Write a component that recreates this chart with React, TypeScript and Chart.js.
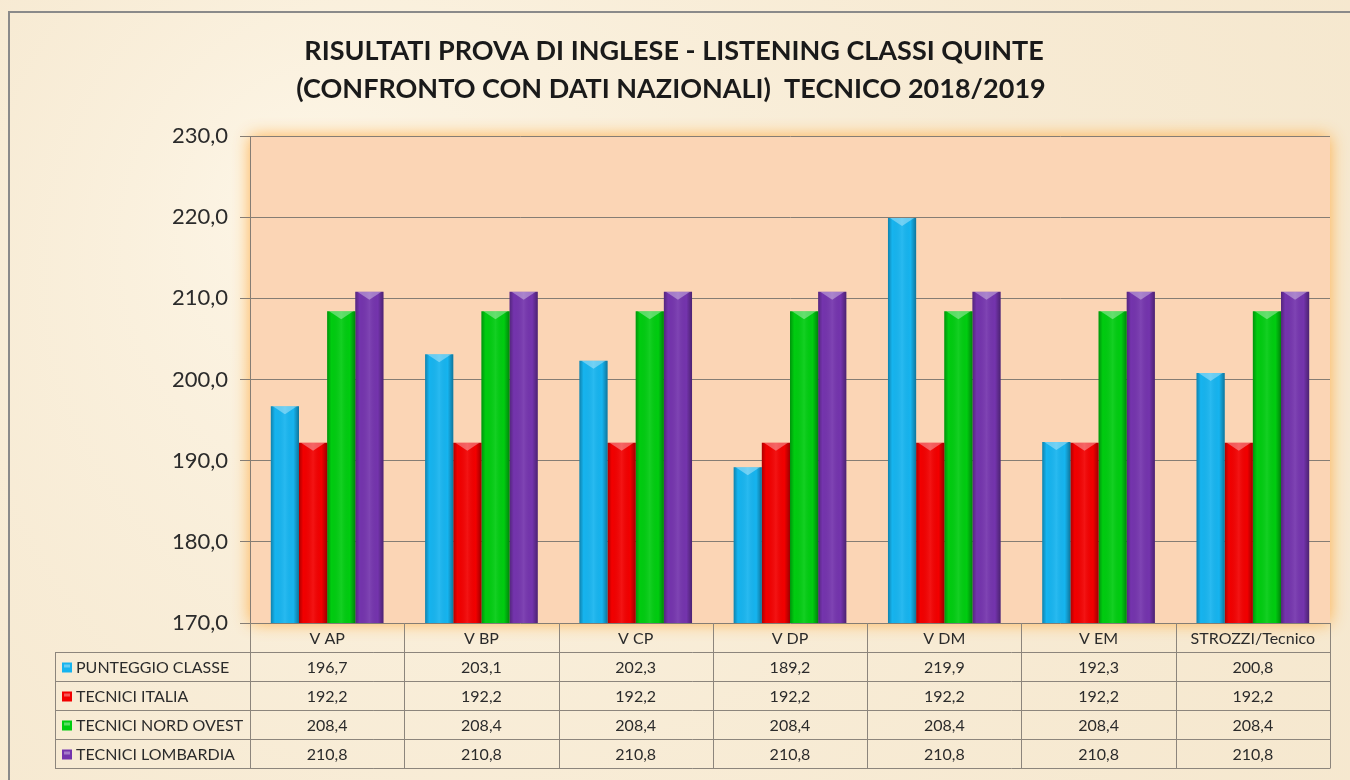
import React, { useEffect, useRef } from "react";
import { Chart, registerables } from "chart.js";

Chart.register(...registerables);

const TITLE_LINES = [
  "RISULTATI PROVA DI INGLESE - LISTENING CLASSI QUINTE",
  "(CONFRONTO CON DATI NAZIONALI)  TECNICO 2018/2019",
];
const CATEGORIES = ["V AP", "V BP", "V CP", "V DP", "V DM", "V EM", "STROZZI/Tecnico"];
const SERIES_NAMES = ["PUNTEGGIO CLASSE", "TECNICI ITALIA", "TECNICI NORD OVEST", "TECNICI LOMBARDIA"];
const PUNTEGGIO_CLASSE = [196.7, 203.1, 202.3, 189.2, 219.9, 192.3, 200.8];
const TECNICI_ITALIA = [192.2, 192.2, 192.2, 192.2, 192.2, 192.2, 192.2];
const TECNICI_NORD_OVEST = [208.4, 208.4, 208.4, 208.4, 208.4, 208.4, 208.4];
const TECNICI_LOMBARDIA = [210.8, 210.8, 210.8, 210.8, 210.8, 210.8, 210.8];
const SERIES_COLORS = ["#16b4ef", "#f20000", "#00cc10", "#7434ad"];
const Y_MIN = 170;
const Y_MAX = 230;
const Y_STEP = 10;

const FONT = "Lato, 'Open Sans', sans-serif";
const fmt = (v: number) => v.toFixed(1).replace(".", ",");

const PLOT_LEFT = 250;
const PLOT_TOP = 136;
const PLOT_BOTTOM = 623;
const TABLE_LEFT = 55;
const ROW_H = 29;

const decorPlugin = {
  id: "decor",
  beforeDraw(chart: any) {
    const { ctx, width, height, chartArea } = chart;
    ctx.save();
    ctx.fillStyle = "#f8ecd6";
    ctx.fillRect(0, 0, width, height);
    const g = ctx.createRadialGradient(300, 200, 50, 600, 400, 900);
    g.addColorStop(0, "rgba(255,250,238,0.6)");
    g.addColorStop(1, "rgba(240,222,190,0.3)");
    ctx.fillStyle = g;
    ctx.fillRect(0, 0, width, height);
    ctx.strokeStyle = "#8a8a8a";
    ctx.lineWidth = 2;
    ctx.beginPath();
    ctx.moveTo(9, height);
    ctx.lineTo(9, 12);
    ctx.lineTo(width, 12);
    ctx.stroke();
    ctx.shadowColor = "rgba(255,170,60,0.9)";
    ctx.shadowBlur = 16;
    ctx.fillStyle = "#fbd5b5";
    ctx.fillRect(chartArea.left, chartArea.top, chartArea.right - chartArea.left, chartArea.bottom - chartArea.top);
    ctx.shadowBlur = 0;
    ctx.shadowColor = "transparent";
    ctx.fillRect(chartArea.left, chartArea.top, chartArea.right - chartArea.left, chartArea.bottom - chartArea.top);
    ctx.fillStyle = "#1a1a1a";
    ctx.font = `bold 27px ${FONT}`;
    ctx.textAlign = "center";
    ctx.textBaseline = "alphabetic";
    ctx.fillText(TITLE_LINES[0], 674, 60);
    ctx.fillText(TITLE_LINES[1], 671, 98);
    ctx.restore();
  },
  afterDatasetsDraw(chart: any) {
    const { ctx, chartArea } = chart;
    ctx.save();
    ctx.beginPath();
    ctx.rect(chartArea.left, chartArea.top, chartArea.right - chartArea.left, chartArea.bottom - chartArea.top);
    ctx.clip();
    chart.data.datasets.forEach((ds: any, di: number) => {
      const meta = chart.getDatasetMeta(di);
      meta.data.forEach((bar: any) => {
        const w = bar.width;
        const left = bar.x - w / 2;
        const top = bar.y;
        const bottom = Math.min(bar.base, chartArea.bottom);
        const gr = ctx.createLinearGradient(left, 0, left + w, 0);
        gr.addColorStop(0, "rgba(0,0,0,0.28)");
        gr.addColorStop(0.15, "rgba(0,0,0,0.0)");
        gr.addColorStop(0.5, "rgba(255,255,255,0.08)");
        gr.addColorStop(0.8, "rgba(0,0,0,0.0)");
        gr.addColorStop(1, "rgba(0,0,0,0.35)");
        ctx.fillStyle = gr;
        ctx.fillRect(left, top, w, bottom - top);
        ctx.fillStyle = "rgba(255,255,255,0.35)";
        ctx.beginPath();
        ctx.moveTo(left + 2, top);
        ctx.lineTo(left + w - 2, top);
        ctx.lineTo(bar.x, top + 8);
        ctx.closePath();
        ctx.fill();
      });
    });
    ctx.restore();
  },
  afterDraw(chart: any) {
    const { ctx, chartArea } = chart;
    const x = chart.scales.x;
    const n = CATEGORIES.length;
    const colW = (chartArea.right - chartArea.left) / n;
    const bottomTable = chartArea.bottom + ROW_H * 5;
    ctx.save();
    ctx.strokeStyle = "#8c857c";
    ctx.lineWidth = 1;
    ctx.beginPath();
    for (let i = 0; i <= n; i++) {
      const px = Math.round(chartArea.left + i * colW) + 0.5;
      ctx.moveTo(px, chartArea.bottom);
      ctx.lineTo(px, bottomTable);
    }
    ctx.moveTo(TABLE_LEFT + 0.5, chartArea.bottom + ROW_H);
    ctx.lineTo(TABLE_LEFT + 0.5, bottomTable);
    for (let r = 1; r <= 5; r++) {
      const py = Math.round(chartArea.bottom + r * ROW_H) + 0.5;
      ctx.moveTo(TABLE_LEFT, py);
      ctx.lineTo(Math.round(chartArea.right) + 0.5, py);
    }
    ctx.stroke();

    const values = chart.data.datasets.map((d: any) => d.data);
    ctx.textBaseline = "middle";
    for (let r = 0; r < SERIES_NAMES.length; r++) {
      const cy = chartArea.bottom + ROW_H * (r + 1) + ROW_H / 2 + 1;
      ctx.fillStyle = SERIES_COLORS[r];
      ctx.fillRect(TABLE_LEFT + 7, cy - 5, 10, 10);
      ctx.fillStyle = "rgba(255,255,255,0.35)";
      ctx.fillRect(TABLE_LEFT + 9, cy - 3, 6, 3);
      ctx.fillStyle = "#2b2b2b";
      ctx.font = `16px ${FONT}`;
      ctx.textAlign = "left";
      ctx.fillText(SERIES_NAMES[r], TABLE_LEFT + 21, cy);
      ctx.textAlign = "center";
      for (let c = 0; c < n; c++) {
        ctx.fillText(fmt(values[r][c]), x.getPixelForValue(c), cy);
      }
    }
    ctx.restore();
  },
};

export default function App() {
  const ref = useRef<HTMLCanvasElement>(null);
  useEffect(() => {
    document.body.style.margin = "0";
    const chart = new Chart(ref.current!, {
      type: "bar",
      data: {
        labels: CATEGORIES,
        datasets: [
          { label: SERIES_NAMES[0], data: PUNTEGGIO_CLASSE, backgroundColor: SERIES_COLORS[0] },
          { label: SERIES_NAMES[1], data: TECNICI_ITALIA, backgroundColor: SERIES_COLORS[1] },
          { label: SERIES_NAMES[2], data: TECNICI_NORD_OVEST, backgroundColor: SERIES_COLORS[2] },
          { label: SERIES_NAMES[3], data: TECNICI_LOMBARDIA, backgroundColor: SERIES_COLORS[3] },
        ],
      },
      options: {
        animation: false,
        responsive: false,
        maintainAspectRatio: false,
        datasets: { bar: { categoryPercentage: 0.73, barPercentage: 1 } },
        layout: { padding: { left: 0, right: 20, top: PLOT_TOP, bottom: 0 } },
        plugins: { legend: { display: false }, tooltip: { enabled: false }, title: { display: false } },
        scales: {
          x: {
            grid: { display: false, drawTicks: false },
            border: { display: false },
            ticks: { color: "#2b2b2b", font: { family: FONT, size: 16 }, padding: 6, maxRotation: 0, autoSkip: false },
            afterFit: (s: any) => {
              s.height = 780 - PLOT_BOTTOM;
            },
          },
          y: {
            min: Y_MIN,
            max: Y_MAX,
            ticks: {
              stepSize: Y_STEP,
              color: "#2b2b2b",
              font: { family: FONT, size: 22 },
              padding: 12,
              callback: (v: any) => fmt(Number(v)),
            },
            grid: { color: "#857d74", lineWidth: 1, tickLength: 10, drawTicks: true },
            border: { display: true, color: "#857d74", width: 1 },
            afterFit: (s: any) => {
              s.width = PLOT_LEFT;
            },
          },
        },
      },
      plugins: [decorPlugin],
    });
    return () => chart.destroy();
  }, []);
  return (
    <div style={{ position: "absolute", left: 0, top: 0, width: 1350, height: 780 }}>
      <canvas ref={ref} width={1350} height={780} style={{ width: 1350, height: 780 }} />
    </div>
  );
}
